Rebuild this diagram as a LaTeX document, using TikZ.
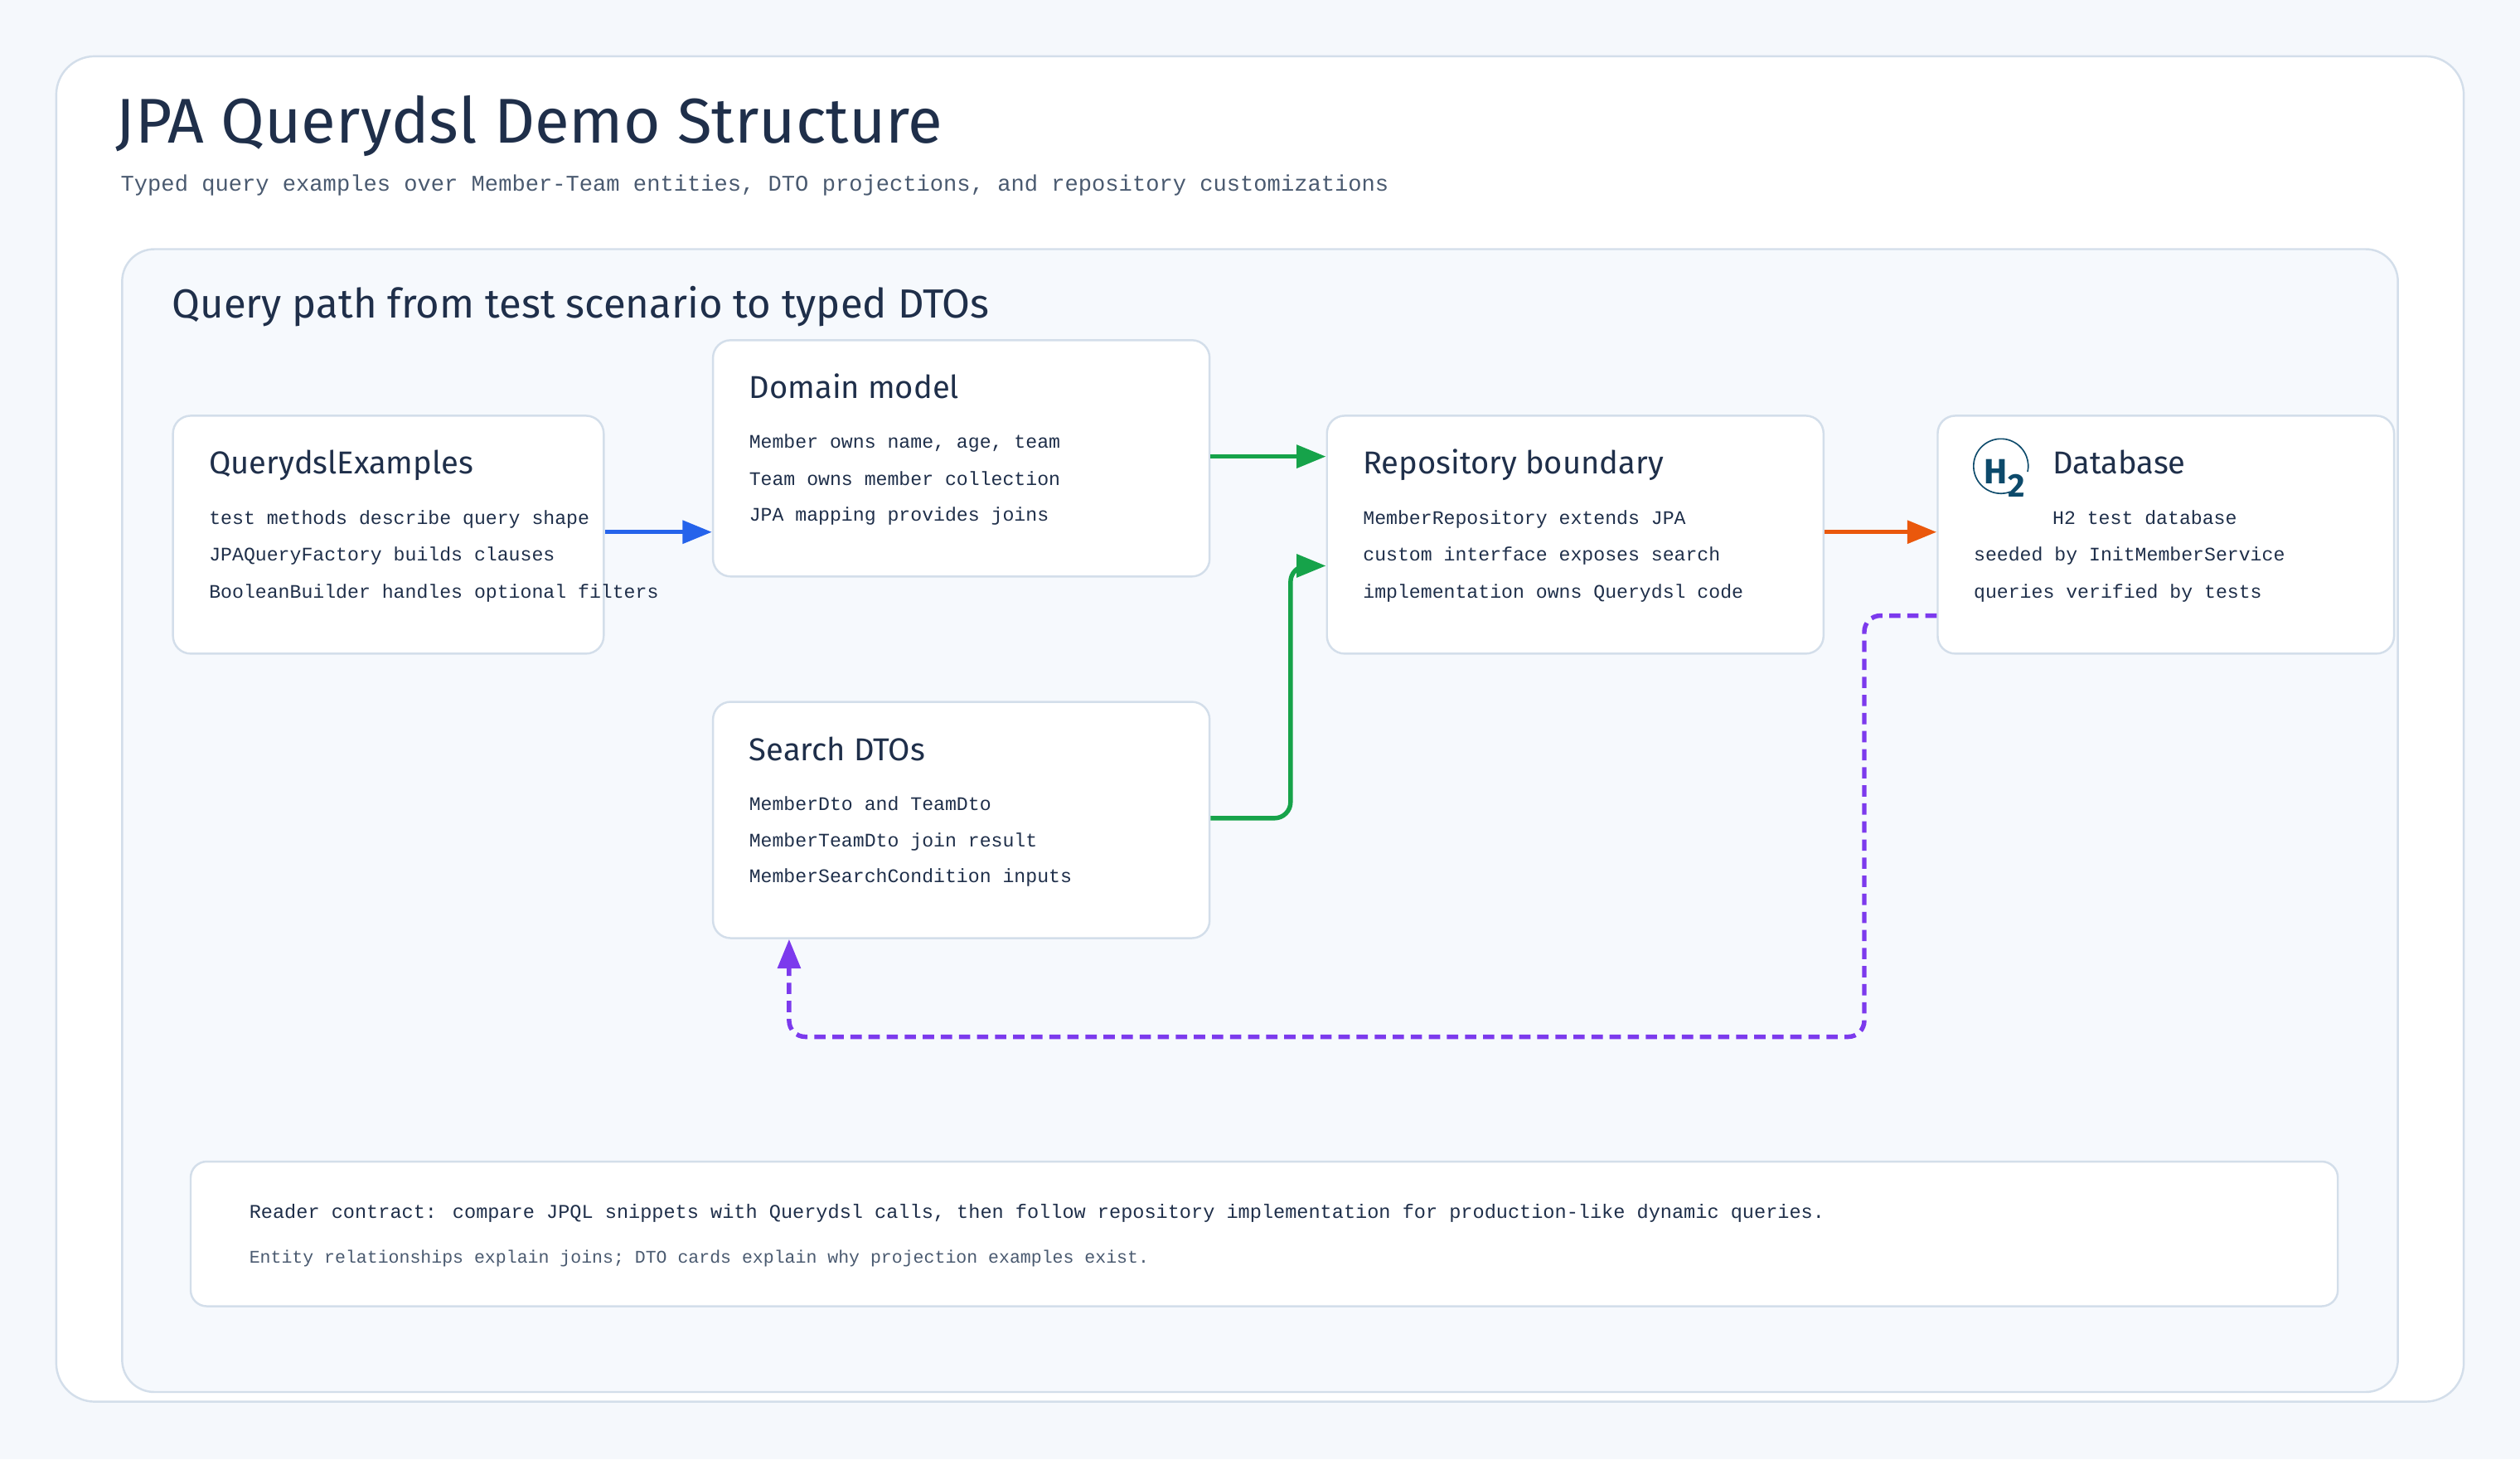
\documentclass[tikz,border=0pt]{standalone}
\usepackage{fontspec}
\setmainfont{Fira Sans}
\newfontfamily\mono{Liberation Mono}
\usetikzlibrary{arrows.meta}
\definecolor{bg}{HTML}{F5F8FC}
\definecolor{panel}{HTML}{F6F9FD}
\definecolor{bord}{HTML}{D3DEEA}
\definecolor{ink}{HTML}{1F2F4A}
\definecolor{sub}{HTML}{4A5A70}
\definecolor{cblue}{HTML}{2563EB}
\definecolor{cgreen}{HTML}{16A34A}
\definecolor{corange}{HTML}{EA580C}
\definecolor{cpurple}{HTML}{7C3AED}
\definecolor{htwo}{HTML}{0D4A6B}
\tikzset{
 card/.style={draw=bord,line width=1.8pt,fill=white,rounded corners=0.55cm,inner sep=0,anchor=north west},
 ctitle/.style={anchor=base west,inner sep=0,text=ink,font=\fontsize{28}{32}\selectfont},
 cline/.style={anchor=base west,inner sep=0,text=ink,font=\mono\fontsize{17}{20}\selectfont},
 conn/.style={line width=4pt,-{Triangle[length=26pt,width=20pt]},rounded corners=0.5cm},
}
\begin{document}
\begin{tikzpicture}[x=0.05cm,y=-0.05cm]
\fill[bg] (0,0) rectangle (1568,908);
\useasboundingbox (0,0) rectangle (1568,908);
\draw[bord,line width=1.8pt,fill=white,rounded corners=1.2cm] (35,35) rectangle (1533,872);
\node[anchor=base west,inner sep=0,text=ink,font=\fontsize{56}{62}\selectfont] (title) at (72,89) {JPA Querydsl Demo Structure};
\node[anchor=base west,inner sep=0,text=sub,font=\mono\fontsize{19.9}{22}\selectfont] (subt) at (75,119) {Typed query examples over Member-Team entities, DTO projections, and repository customizations};
\draw[bord,line width=1.8pt,fill=panel,rounded corners=1cm] (76,155) rectangle (1492,866);
\node[anchor=base west,inner sep=0,text=ink,font=\fontsize{36}{40}\selectfont] (ptitle) at (107,198) {Query path from test scenario to typed DTOs};
% cards
\node[card,minimum width=268*0.05cm,minimum height=148*0.05cm] (q) at (107,258) {};
\node[ctitle] at (130,295) {QuerydslExamples};
\node[cline] at (130,326) {test methods describe query shape};
\node[cline] at (130,349) {JPAQueryFactory builds clauses};
\node[cline] at (130,372) {BooleanBuilder handles optional filters};
\node[card,minimum width=309*0.05cm,minimum height=147*0.05cm] (dom) at (443,211) {};
\node[ctitle] at (466,248) {Domain model};
\node[cline] at (466,279) {Member owns name, age, team};
\node[cline] at (466,302) {Team owns member collection};
\node[cline] at (466,324) {JPA mapping provides joins};
\node[card,minimum width=309*0.05cm,minimum height=147*0.05cm] (dto) at (443,436) {};
\node[ctitle] at (466,473) {Search DTOs};
\node[cline] at (466,504) {MemberDto and TeamDto};
\node[cline] at (466,527) {MemberTeamDto join result};
\node[cline] at (466,549) {MemberSearchCondition inputs};
\node[card,minimum width=309*0.05cm,minimum height=148*0.05cm] (repo) at (825,258) {};
\node[ctitle] at (848,295) {Repository boundary};
\node[cline] at (848,326) {MemberRepository extends JPA};
\node[cline] at (848,349) {custom interface exposes search};
\node[cline] at (848,372) {implementation owns Querydsl code};
\node[card,minimum width=284*0.05cm,minimum height=148*0.05cm] (db) at (1205,258) {};
\node[ctitle] at (1277,295) {Database};
\node[cline] at (1277,326) {H2 test database};
\node[cline] at (1228,349) {seeded by InitMemberService};
\node[cline] at (1228,372) {queries verified by tests};
% H2 logo
\draw[htwo,line width=1.2pt] (1245,290) ++(70:17) arc[start angle=70,end angle=372,radius=17];
\node[anchor=base,inner sep=0,text=htwo,font=\bfseries\fontsize{31}{31}\selectfont] (hlogo) at (1242,301) {H};
\node[anchor=base,inner sep=0,text=htwo,font=\bfseries\fontsize{29}{29}\selectfont] (twologo) at (1255,309) {2};
% bottom note
\node[card,minimum width=1336*0.05cm,minimum height=90*0.05cm,rounded corners=0.5cm] (note) at (118,722) {};
\node[anchor=base west,inner sep=0,text=ink,font=\mono\fontsize{17.3}{22}\selectfont] at (155,758) {Reader contract: compare JPQL snippets with Querydsl calls, then follow repository implementation for production-like dynamic queries.};
\node[anchor=base west,inner sep=0,text=sub,font=\mono\fontsize{15.8}{18}\selectfont] at (155,786) {Entity relationships explain joins; DTO cards explain why projection examples exist.};
% connectors
\coordinate (c1) at (803,509);
\coordinate (c2) at (1160,383);
\coordinate (c3) at (491,645);
\draw[conn,cblue] (q.east |- 0,331) -- (dom.west |- 0,331);
\draw[conn,cgreen] (dom.east |- 0,284) -- (repo.west |- 0,284);
\draw[conn,cgreen] (dto.east |- 0,509) -- (c1) -- (c1 |- 0,352) -- (repo.west |- 0,352);
\draw[conn,corange] (repo.east |- 0,331) -- (db.west |- 0,331);
\draw[conn,cpurple,dash pattern=on 10pt off 6pt] (db.west |- 0,383) -- (c2) -- (c2 |- c3) -- (c3) -- (c3 |- dto.south);
\end{tikzpicture}
\end{document}
